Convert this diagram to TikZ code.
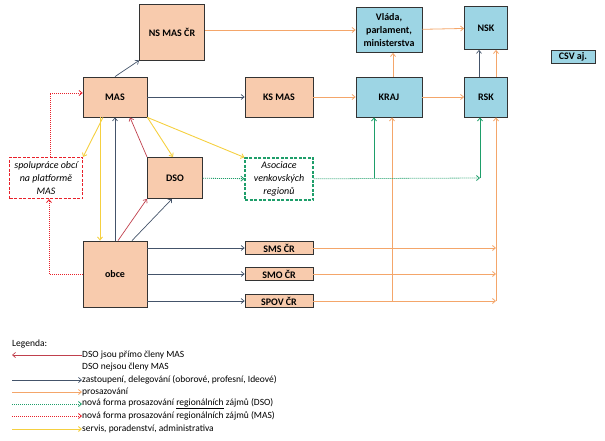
\documentclass[tikz,border=0pt]{standalone}
\usepackage{fontspec}
\setmainfont{Carlito}
\usetikzlibrary{arrows.meta}
\definecolor{bor}{HTML}{F8CBAD}
\definecolor{bbl}{HTML}{9DD5E4}
\definecolor{lgray}{HTML}{44546A}
\definecolor{lor}{HTML}{F4A66A}
\definecolor{lgr}{HTML}{1E9E6A}
\definecolor{lred}{HTML}{C0404D}
\definecolor{lrd}{HTML}{E8202A}
\definecolor{lye}{HTML}{F5D040}
\begin{document}
\begin{tikzpicture}[x=1pt,y=-1pt,
 >={Straight Barb[length=3pt,width=5pt]},
 box/.style={draw=black!80,line width=0.8pt,fill=bor,font=\fontsize{10}{13}\selectfont\bfseries,align=center,inner sep=0pt},
 bbox/.style={box,fill=bbl},
 dbox/.style={draw,dash pattern=on 3pt off 1.5pt,line width=1.1pt,fill=white,font=\fontsize{10}{13}\selectfont\itshape,align=center,inner sep=0pt},
 gr/.style={->,lgray,line width=0.7pt},
 orr/.style={->,lor,line width=0.8pt},
 grn/.style={->,lgr,line width=0.8pt},
 grd/.style={grn,dash pattern=on 1pt off 1pt},
 rd/.style={->,lred,line width=0.7pt},
 rdd/.style={->,lrd,line width=0.8pt,dash pattern=on 1pt off 1pt},
 ye/.style={->,lye,line width=0.9pt},
 leg/.style={font=\fontsize{9.5}{10}\selectfont,anchor=west,inner sep=0pt}]
\useasboundingbox (0,0) rectangle (605,441);
\node[box,minimum width=65,minimum height=56] (ns) at (172,32) {NS MAS ČR};
\node[bbox,minimum width=66,minimum height=45] (vl) at (389,30) {Vláda,\\parlament,\\ministerstva};
\node[bbox,minimum width=43,minimum height=43] (nsk) at (486,28) {NSK};
\node[bbox,minimum width=44,minimum height=13] (csv) at (573,57) {CSV aj.};
\node[box,minimum width=64,minimum height=40] (mas) at (115,97) {MAS};
\node[box,minimum width=68,minimum height=40] (ks) at (279,97) {KS MAS};
\node[bbox,minimum width=66,minimum height=40] (kr) at (389,97) {KRAJ};
\node[bbox,minimum width=43,minimum height=40] (rsk) at (486,97) {RSK};
\node[dbox,draw=lrd,minimum width=73,minimum height=41] (sp) at (46,178) {spolupráce obcí\\na platformě\\MAS};
\node[box,minimum width=55,minimum height=41] (dso) at (175,178) {DSO};
\node[dbox,draw=lgr,minimum width=68,minimum height=42] (as) at (279,179) {Asociace\\venkovských\\regionů};
\node[box,minimum width=64,minimum height=66] (ob) at (115,274) {obce};
\node[box,minimum width=68,minimum height=13] (sms) at (279,248) {SMS ČR};
\node[box,minimum width=68,minimum height=13] (smo) at (279,274) {SMO ČR};
\node[box,minimum width=68,minimum height=13] (spov) at (279,301) {SPOV ČR};
% coordinates
\coordinate (jk) at (374,178);
\coordinate (jr) at (480,178);
\coordinate (ox) at (392,301);
\coordinate (rx) at (496,301);
% gray
\draw[gr] (mas.north) -- (ns.south west);
\draw[gr] (mas) -- (ks);
\draw[gr] (ob) -- (ob -| sms.west);
\draw[gr] (ob.east |- sms) -- (sms);
\draw[gr] (ob.east |- spov) -- (spov);
\draw[gr] (ob.north) -- (mas.south);
\draw[gr] ([xshift=17]ob.north) -- ([xshift=-3]dso.south);
\draw[gr] ([xshift=-7]rsk.north) -- ([xshift=-7]nsk.south);
% red
\draw[rd] ([xshift=3]ob.north) -- ([xshift=-28]dso.south);
\draw[rd] (dso.north west) -- ([xshift=15]mas.south);
% orange
\draw[orr] (ns.east |- vl) -- (vl);
\draw[orr] (vl) -- (nsk);
\draw[orr] (ks) -- (kr);
\draw[orr] (kr) -- (rsk);
\draw[orr] ([xshift=4]kr.north) -- ([xshift=4]vl.south);
\draw[orr] ([xshift=10]rsk.north) -- ([xshift=10]nsk.south);
\draw[orr] (sms) -- (sms -| rx);
\draw[orr] (smo) -- (smo -| rx);
\draw[orr] (spov) -- (rx);
\draw[orr] (ox) -- (kr.south -| ox);
\draw[orr] (rx) -- (rsk.south -| rx);
% green
\draw[grd] (dso) -- (as);
\draw[grd] (as) -- (jr);
\draw[grn] (jk) -- (kr.south -| jk);
\draw[grn] (jr) -- (rsk.south -| jr);
% red dotted
\draw[rdd] (sp.north -| 50,0) |- (mas.west |- 0,93);
\draw[rdd] (ob.west) -| (sp.south -| 49,0);
% yellow
\draw[ye] ([xshift=-15]mas.south) -- ([xshift=-15]ob.north);
\draw[ye] ([xshift=-12]mas.south) -- (sp.north east);
\draw[ye] (mas.south east) -- ([xshift=-2]dso.north);
\draw[ye] (mas.south east) -- (as.north west);
% legend
\node[leg] (lg) at (12,344) {Legenda:};
\node[leg] (l1) at (82,355) {DSO jsou přímo členy MAS};
\node[leg] (l2) at (82,367) {DSO nejsou členy MAS};
\node[leg] (l3) at (82,380) {zastoupení, delegování (oborové, profesní, Ideové)};
\node[leg] (l4) at (82,392) {prosazování};
\node[leg] (l5) at (82,404) {nová forma prosazování \underline{regionálních} zájmů (DSO)};
\node[leg] (l6) at (82,416) {nová forma prosazování regionálních zájmů (MAS)};
\node[leg] (l7) at (82,429) {servis, poradenství, administrativa};
\draw[rd] (l1.west) -- (12,355);
\draw[gr] (12,380) -- (l3.west);
\draw[orr] (12,392) -- (l4.west);
\draw[grd] (12,404) -- (l5.west);
\draw[rdd] (12,416) -- (l6.west);
\draw[ye] (12,429) -- (l7.west);
\end{tikzpicture}
\end{document}
